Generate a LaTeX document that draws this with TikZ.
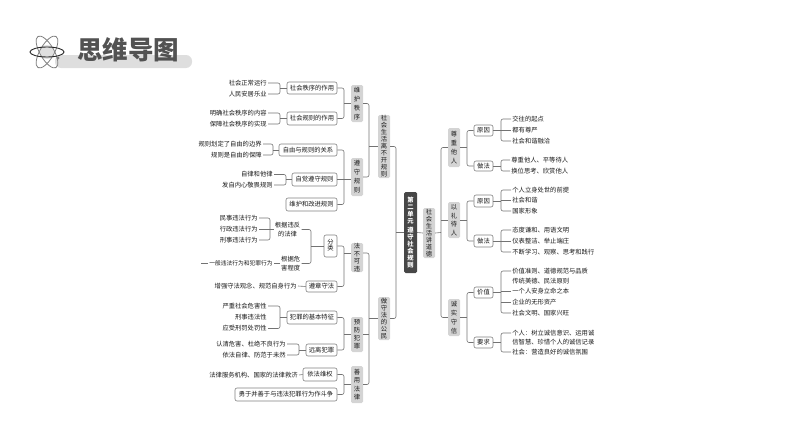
\documentclass[tikz,border=0pt]{standalone}
\usepackage{fontspec}
\setmainfont{Noto Sans CJK SC}
\tikzset{
  ln/.style={draw=black!55,line width=.6pt},
  rc/.style={rounded corners=2pt},
  wbox/.style={draw=black!50,fill=white,line width=.6pt,rounded corners=2pt,inner sep=0pt,text=black!90,font=\fontsize{6.3}{7}\selectfont},
  gbox/.style={fill=black!17,rounded corners=1.5pt,inner sep=0pt,text=black!90,align=center},
  dk/.style={fill=black!72,text=white,node font=\bfseries},
  itm/.style={inner xsep=1.2pt,inner ysep=0pt,text height=5.2pt,text depth=1pt,text=black!90,font=\fontsize{6.3}{7}\selectfont},
}
\newcommand\bx[6]{\pgfmathsetmacro\mycx{(#2+#4)/2}\pgfmathsetmacro\mycy{(#3+#5)/2}\pgfmathsetmacro\myw{#4-#2}\pgfmathsetmacro\myh{#5-#3}
  \node[wbox,minimum width=\myw pt,minimum height=\myh pt] (#1) at (\mycx,\mycy) {#6};}
\newcommand\gb[8][]{\pgfmathsetmacro\mycx{(#3+#5)/2}\pgfmathsetmacro\mycy{(#4+#6)/2}\pgfmathsetmacro\myw{#5-#3}\pgfmathsetmacro\myh{#6-#4}
  \node[gbox,minimum width=\myw pt,minimum height=\myh pt,font=\fontsize{6.3}{#7}\selectfont,#1] (#2) at (\mycx,\mycy) {#8};}
\newcommand\li[4]{\node[itm,anchor=east] (#1) at (#2,#3) {#4};}
\newcommand\ri[4]{\node[itm,anchor=west] (#1) at (#2,#3) {#4};}
\newcommand\fr[4]{\draw[ln] (#1.east) -- (#1.east -| #4,0);\draw[ln,rc] (#2.west) -- (#2.west -| #4,0) -- (#3.west -| #4,0) -- (#3.west);}
\newcommand\fl[4]{\draw[ln] (#1.west) -- (#1.west -| #4,0);\draw[ln,rc] (#2.east) -- (#2.east -| #4,0) -- (#3.east -| #4,0) -- (#3.east);}
\newcommand\tr[2]{\draw[ln] (#1.west) -- (#1.west -| #2,0);}
\newcommand\tl[2]{\draw[ln] (#1.east) -- (#1.east -| #2,0);}
\begin{document}
\begin{tikzpicture}[x=1pt,y=-1pt]
\useasboundingbox (0,0) rectangle (794,447);
% title
\fill[black!13,rounded corners=6pt] (55,55) rectangle (192,68);
\node[inner sep=0pt,text=black!68,font=\fontsize{25.5}{26}\selectfont\bfseries] (ttl) at (128,50) {思维导图};
\fill[black!12] (47,52) circle (7);
\draw[black!50,line width=.8pt,rotate around={60:(47,52)}] (47,52) ellipse (18 and 7);
\draw[black!50,line width=.8pt,rotate around={-60:(47,52)}] (47,52) ellipse (18 and 7);
\draw[black!85,line width=.9pt] (47,52) ellipse (17 and 5);
\fill[black!50] (58,58) circle (1.6);
% centre
\gb[dk]{cen}{404}{192}{417}{273}{6.9}{第\\二\\单\\元\\[3pt]遵\\守\\社\\会\\规\\则}
\gb{lj}{423}{208}{435}{258}{7}{社\\会\\生\\活\\讲\\道\\德}
\gb{La}{378}{115}{390}{178}{7}{社\\会\\生\\活\\离\\不\\开\\规\\则}
\gb{Lb}{378}{297}{390}{340}{7}{做\\守\\法\\的\\公\\民}
\gb{Ra}{448}{128}{460}{167}{9}{尊\\重\\他\\人}
\gb{Rb}{448}{202}{460}{238}{8.5}{以\\礼\\待\\人}
\gb{Rc}{448}{299}{460}{336}{9}{诚\\实\\守\\信}
\coordinate (sL) at (396,232.5);
\coordinate (sR) at (441,232.5);
\draw[ln] (cen.west) -- (sL);
\draw[ln] (cen.east) -- (lj.west);
\draw[ln] (lj.east) -- (sR);
\draw[ln,rc] (La.east) -- (La.east -| sL) -- (Lb.east -| sL) -- (Lb.east);
\draw[ln,rc] (Ra.west) -- (Ra.west -| sR) -- (Rc.west -| sR) -- (Rc.west);
\draw[ln] (Rb.west) -- (Rb.west -| sR);
% right: zunzhong
\bx{a1}{474}{125}{493}{136}{原因}
\bx{a2}{474}{161}{493}{171}{做法}
\fr{Ra}{a1}{a2}{467}
\ri{a11}{511}{119}{交往的起点}
\ri{a12}{511}{130}{都有尊严}
\ri{a13}{511}{141}{社会和谐融洽}
\fr{a1}{a11}{a13}{501}
\tr{a12}{501}
\ri{a21}{510}{160}{尊重他人、平等待人}
\ri{a22}{510}{171}{换位思考、欣赏他人}
\fr{a2}{a21}{a22}{501}
% right: yili
\bx{b1}{474}{195}{493}{207}{原因}
\bx{b2}{474}{235}{493}{247}{做法}
\fr{Rb}{b1}{b2}{467}
\ri{b11}{511}{190}{个人立身处世的前提}
\ri{b12}{511}{200}{社会和谐}
\ri{b13}{511}{211}{国家形象}
\fr{b1}{b11}{b13}{501}
\tr{b12}{501}
\ri{b21}{511}{230}{态度谦和、用语文明}
\ri{b22}{511}{241}{仪表整洁、举止端庄}
\ri{b23}{511}{252}{不断学习、观察、思考和践行}
\fr{b2}{b21}{b23}{501}
\tr{b22}{501}
% right: chengshi
\bx{c1}{474}{287}{493}{298}{价值}
\bx{c2}{474}{337}{493}{348}{要求}
\fr{Rc}{c1}{c2}{467}
\ri{c11}{511}{271}{价值准则、道德规范与品质}
\ri{c1x}{511}{281}{传统美德、民法原则}
\ri{c12}{511}{291}{一个人安身立命之本}
\ri{c13}{511}{302}{企业的无形资产}
\ri{c14}{511}{313}{社会文明、国家兴旺}
\fr{c1}{c11}{c14}{501}
\tr{c12}{501}
\tr{c13}{501}
\ri{c21}{511}{333}{个人：树立诚信意识、运用诚}
\ri{c2x}{511}{342}{信智慧、珍惜个人的诚信记录}
\ri{c22}{511}{352}{社会：营造良好的诚信氛围}
\fr{c2}{c21}{c22}{501}
% left upper
\gb{Ga}{351}{85}{363}{122}{9}{维\\护\\秩\\序}
\gb{Gb}{351}{158}{363}{196}{9}{遵\\守\\规\\则}
\fl{La}{Ga}{Gb}{369}
\bx{d1}{287}{82}{337}{94}{社会秩序的作用}
\bx{d2}{287}{112}{337}{125}{社会规则的作用}
\fl{Ga}{d1}{d2}{344}
\li{d11}{268}{83}{社会正常运行}
\li{d12}{268}{94}{人民安居乐业}
\fl{d1}{d11}{d12}{280}
\li{d21}{268}{113}{明确社会秩序的内容}
\li{d22}{268}{124}{保障社会秩序的实现}
\fl{d2}{d21}{d22}{280}
\bx{e1}{279}{144}{337}{156}{自由与规则的关系}
\bx{e2}{292}{173}{337}{186}{自觉遵守规则}
\bx{e3}{286}{198}{337}{211}{维护和改进规则}
\draw[ln,rc] (e1.east) -- (e1.east -| 344,0) -- (e3.east -| 344,0) -- (e3.east);
\draw[ln] (e2.east) -- (e2.east -| Gb.west);
\li{e11}{263}{144}{规则划定了自由的边界}
\li{e12}{263}{155}{规则是自由的保障}
\fl{e1}{e11}{e12}{273}
\li{e21}{274}{174.5}{自律和他律}
\li{e22}{274}{185}{发自内心敬畏规则}
\fl{e2}{e21}{e22}{286}
% left: fa bu ke wei
\gb{Gc}{351}{243}{363}{272}{7.5}{法\\不\\可\\违}
\gb{Gd}{351}{317}{363}{352}{8}{预\\防\\犯\\罪}
\gb{Ge}{351}{366}{363}{403}{8.5}{善\\用\\法\\律}
\draw[ln] (Lb.west) -- (Lb.west -| 369,0);
\draw[ln,rc] (Gc.east |- 0,253) -- (369,253) -- (Ge.east -| 369,0) -- (Ge.east);
\draw[ln] (Gd.east) -- (Gd.east -| 369,0);
\bx{f1}{324}{235}{337}{257}{\begin{tabular}{@{}c@{}}分\\[-1pt]类\end{tabular}}
\bx{f2}{306}{281}{337}{292}{遵章守法}
\draw[ln,rc] (f1.east) -- (f1.east -| 344,0) -- (f2.east -| 344,0) -- (f2.east);
\draw[ln] (344,253) -- (Gc.west |- 0,253);
\node[inner xsep=1.2pt,inner ysep=0pt,anchor=east,align=center,text=black!90,font=\fontsize{6.3}{9}\selectfont] (g1) at (301.5,229.5) {根据违反\\的法律};
\node[inner xsep=1.2pt,inner ysep=0pt,anchor=east,align=center,text=black!90,font=\fontsize{6.3}{9}\selectfont] (g2) at (301.5,263.5) {根据危\\害程度};
\fl{f1}{g1}{g2}{311}
\li{g11}{259}{218}{民事违法行为}
\li{g12}{259}{229}{行政违法行为}
\li{g13}{259}{240}{刑事违法行为}
\fl{g1}{g11}{g13}{270}
\tl{g12}{270}
\node[itm,anchor=east,font=\fontsize{5.75}{7}\selectfont] (g21) at (274,263.5) {一般违法行为和犯罪行为};
\draw[ln] (g21.east) -- (g2.west);
\draw[ln] (g21.west) -- ++(-7,0) coordinate (g21e);
\li{f21}{298}{286}{增强守法观念、规范自身行为}
\draw[ln] (f21.east) -- (f2.west);
% left: yufang
\bx{h1}{287}{311}{337}{324}{犯罪的基本特征}
\bx{h2}{306}{344}{337}{356}{远离犯罪}
\fl{Gd}{h1}{h2}{344}
\li{h11}{268}{306}{严重社会危害性}
\li{h12}{268}{317.5}{刑事违法性}
\li{h13}{268}{328.5}{应受刑罚处罚性}
\fl{h1}{h11}{h13}{280}
\li{h21}{287}{344}{认清危害、杜绝不良行为}
\li{h22}{287}{355}{依法自律、防范于未然}
\fl{h2}{h21}{h22}{299}
% left: shanyong
\bx{k1}{303}{368}{337}{381}{依法维权}
\bx{k2}{235}{388}{337}{401}{勇于并善于与违法犯罪行为作斗争}
\fl{Ge}{k1}{k2}{344}
\li{k11}{299}{375}{法律服务机构、国家的法律救济}
\draw[ln] (k11.east) -- (k1.west);
\end{tikzpicture}
\end{document}
